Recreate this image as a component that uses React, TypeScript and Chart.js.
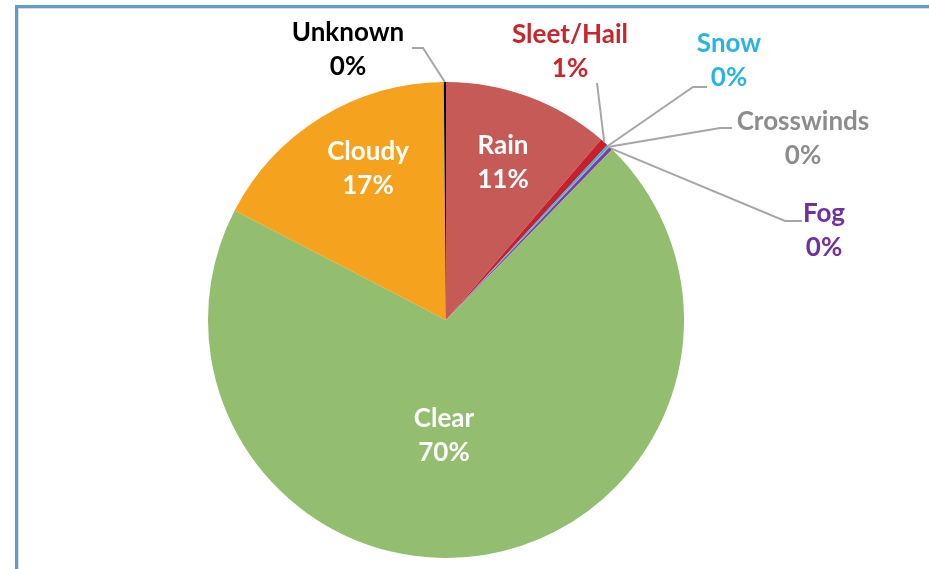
import React, { useEffect, useRef } from "react";
import { Chart, registerables } from "chart.js";

Chart.register(...registerables);

// ---- data ----
const categories = ["Rain", "Sleet/Hail", "Snow", "Crosswinds", "Fog", "Clear", "Cloudy", "Unknown"];
const shares = [11.3, 0.55, 0.15, 0.05, 0.25, 70.3, 17.25, 0.15];

// ---- styles ----
const sliceColors = ["#c55a57", "#c8202a", "#2fb5e9", "#a6a6a6", "#7b3fa0", "#93bd6f", "#f5a21f", "#000000"];
const textColors = ["#ffffff", "#c9252c", "#29b3e8", "#8c8c8c", "#7030a0", "#ffffff", "#ffffff", "#000000"];

// label layout, in px relative to pie centre for a radius of 238 (scaled with radius)
// [dx, first-baseline dy]
const labelPos: number[][] = [
  [57, -166],
  [124, -277],
  [283, -268],
  [357, -190],
  [378, -98],
  [-2, 107],
  [-78, -160],
  [-98, -279],
];
// leader lines: [elbow dx, elbow dy, end dx, end dy] or null for inside labels
const leaders: (number[] | null)[] = [
  null,
  [151, -237, 151, -237],
  [247, -233, 261, -233],
  [274, -192, 286, -192],
  [339, -99, 356, -99],
  null,
  null,
  [-23, -272, -34, -272],
];

const REF_R = 238;
const FONT = "bold 26px Lato";
const LINE_GAP = 34;

const labelPlugin = {
  id: "pieLabels",
  afterDatasetsDraw(chart: any) {
    const ctx = chart.ctx as CanvasRenderingContext2D;
    const meta = chart.getDatasetMeta(0);
    const data = chart.data.datasets[0].data as number[];
    const total = data.reduce((a: number, b: number) => a + b, 0);
    ctx.save();
    meta.data.forEach((arc: any, i: number) => {
      const { x, y, startAngle, endAngle, outerRadius } = arc.getProps(
        ["x", "y", "startAngle", "endAngle", "outerRadius"],
        true
      );
      const s = outerRadius / REF_R;
      const ld = leaders[i];
      if (ld) {
        const mid = (startAngle + endAngle) / 2;
        const sx = x + Math.cos(mid) * outerRadius;
        const sy = y + Math.sin(mid) * outerRadius;
        ctx.beginPath();
        ctx.strokeStyle = "#a6a6a6";
        ctx.lineWidth = 2;
        ctx.moveTo(sx, sy);
        ctx.lineTo(x + ld[0] * s, y + ld[1] * s);
        ctx.lineTo(x + ld[2] * s, y + ld[3] * s);
        ctx.stroke();
      }
      const pct = Math.round((data[i] / total) * 100) + "%";
      const lx = x + labelPos[i][0] * s;
      const ly = y + labelPos[i][1] * s;
      ctx.font = FONT;
      ctx.fillStyle = textColors[i];
      ctx.textAlign = "center";
      ctx.textBaseline = "alphabetic";
      ctx.fillText(chart.data.labels[i], lx, ly);
      ctx.fillText(pct, lx, ly + LINE_GAP * s);
    });
    ctx.restore();
  },
};

export default function App() {
  const ref = useRef<HTMLCanvasElement>(null);
  useEffect(() => {
    if (!ref.current) return;
    const chart = new Chart(ref.current, {
      type: "pie",
      data: {
        labels: categories,
        datasets: [
          {
            data: shares,
            backgroundColor: sliceColors,
            borderWidth: 0,
          },
        ],
      },
      options: {
        responsive: false,
        animation: false,
        layout: { padding: { top: 82, bottom: 11, left: 0, right: 37 } },
        plugins: {
          legend: { display: false },
          tooltip: { enabled: false },
        },
      },
      plugins: [labelPlugin],
    });
    return () => chart.destroy();
  }, []);

  return (
    <div style={{ position: "absolute", left: 0, top: 0, width: 929, height: 569, background: "#fff", overflow: "hidden" }}>
      <div
        style={{
          position: "absolute",
          left: 15,
          top: 5,
          right: -20,
          bottom: -20,
          borderLeft: "3px solid #5b9ec9",
          borderTop: "3px solid #5b9ec9",
        }}
      />
      <div
        style={{
          position: "absolute",
          left: 18,
          top: 8,
          right: -20,
          bottom: -20,
          borderLeft: "1px solid #dcdcdc",
          borderTop: "1px solid #dcdcdc",
        }}
      />
      <canvas ref={ref} width={929} height={569} style={{ position: "absolute", left: 0, top: 0, width: 929, height: 569 }} />
    </div>
  );
}
